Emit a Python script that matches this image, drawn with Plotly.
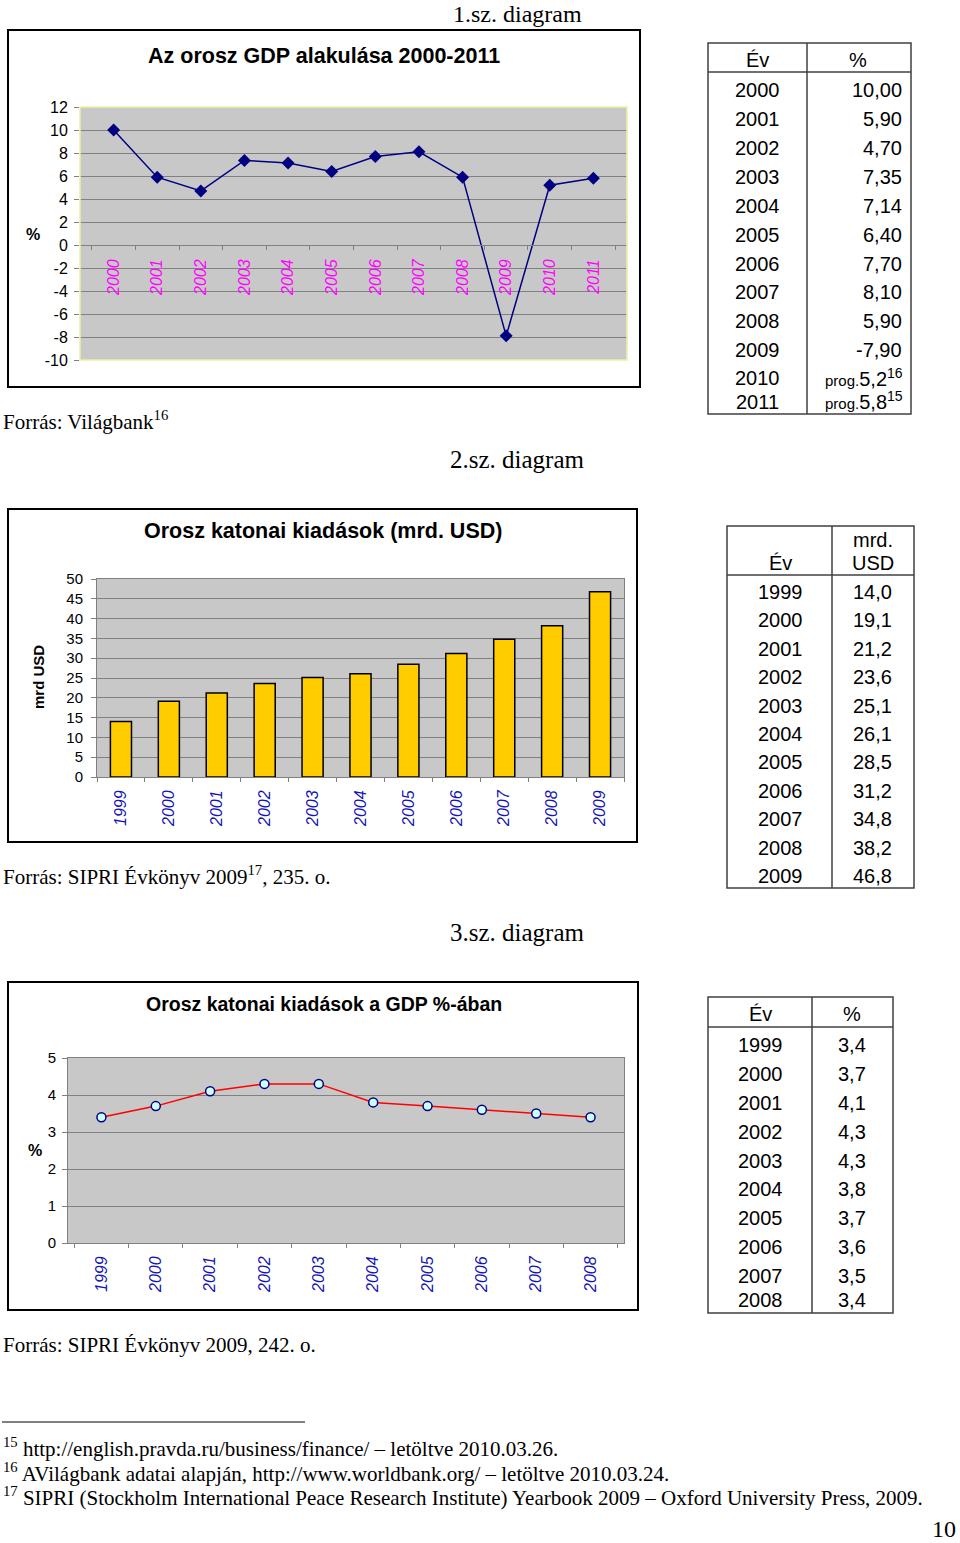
import plotly.graph_objects as go

W, H = 960, 1543


def X(px):
    return px / W


def Y(py):
    return 1 - py / H


# ---------------- data ----------------
gdp_years = ["2000", "2001", "2002", "2003", "2004", "2005",
             "2006", "2007", "2008", "2009", "2010", "2011"]
gdp_growth = [10.00, 5.90, 4.70, 7.35, 7.14, 6.40, 7.70, 8.10, 5.90, -7.90, 5.2, 5.8]
gdp_prefix = ["", "", "", "", "", "", "", "", "", "", "prog.", "prog."]
gdp_decimals = [2, 2, 2, 2, 2, 2, 2, 2, 2, 2, 1, 1]
gdp_note = ["", "", "", "", "", "", "", "", "", "", "16", "15"]
gdp_ticks = [-10, -8, -6, -4, -2, 0, 2, 4, 6, 8, 10, 12]

mil_years = ["1999", "2000", "2001", "2002", "2003", "2004",
             "2005", "2006", "2007", "2008", "2009"]
mil_spend = [14.0, 19.1, 21.2, 23.6, 25.1, 26.1, 28.5, 31.2, 34.8, 38.2, 46.8]
mil_ticks = [0, 5, 10, 15, 20, 25, 30, 35, 40, 45, 50]

share_years = ["1999", "2000", "2001", "2002", "2003",
               "2004", "2005", "2006", "2007", "2008"]
share_gdp = [3.4, 3.7, 4.1, 4.3, 4.3, 3.8, 3.7, 3.6, 3.5, 3.4]
share_ticks = [0, 1, 2, 3, 4, 5]

SANS = "Liberation Sans, Arial, sans-serif"
SERIF = "Liberation Serif, Times New Roman, serif"


def fmt(v, d):
    return f"{v:.{d}f}".replace(".", ",")


# ---------------- figure ----------------
fig = go.Figure()

fig.add_trace(go.Scatter(
    x=gdp_years, y=gdp_growth, mode="lines+markers",
    line=dict(color="#000080", width=1.5),
    marker=dict(symbol="diamond", size=10, color="#000080"),
    xaxis="x", yaxis="y", showlegend=False, hoverinfo="skip"))

fig.add_trace(go.Bar(
    x=mil_years, y=mil_spend,
    marker=dict(color="#FFCC00", line=dict(color="#000000", width=1.5)),
    xaxis="x2", yaxis="y2", showlegend=False, hoverinfo="skip"))

fig.add_trace(go.Scatter(
    x=share_years, y=share_gdp, mode="lines+markers",
    line=dict(color="#FF0000", width=1.5),
    marker=dict(symbol="circle", size=9, color="#CCFFFF",
                line=dict(color="#000080", width=1.5)),
    xaxis="x3", yaxis="y3", showlegend=False, hoverinfo="skip"))

# plot area domains (pixels)
d1 = dict(x=[X(80), X(627)], y=[Y(360), Y(107)])
d2 = dict(x=[X(97), X(624)], y=[Y(777), Y(579)])
d3 = dict(x=[X(68), X(624)], y=[Y(1243), Y(1058)])

g1lo, g1hi = gdp_ticks[0], gdp_ticks[-1]
zero_pos = d1["y"][0] + (0 - g1lo) / (g1hi - g1lo) * (d1["y"][1] - d1["y"][0])

grid = "#808080"
xfont_m = dict(family=SANS, size=16, color="#FF00FF", style="italic")
xfont_b = dict(family=SANS, size=16, color="#1414B4", style="italic")

fig.update_layout(
    width=W, height=H,
    margin=dict(l=0, r=0, t=0, b=0, pad=0, autoexpand=False),
    paper_bgcolor="white", plot_bgcolor="#C8C8C8",
    hovermode=False, bargap=0.56, showlegend=False,
    xaxis=dict(domain=d1["x"], anchor="free", position=zero_pos, type="category",
               showgrid=False, showline=True, linecolor="#808080", linewidth=1,
               ticks="outside", tickson="boundaries", ticklen=4, tickcolor="#808080",
               tickangle=-90, ticklabelstandoff=7, tickfont=xfont_m,
               automargin=False, fixedrange=True),
    yaxis=dict(domain=d1["y"], anchor="x", range=[g1lo, g1hi],
               tickvals=gdp_ticks, ticktext=[str(t) for t in gdp_ticks],
               showgrid=True, gridcolor=grid, gridwidth=1, zeroline=False,
               showline=False, ticks="outside", ticklen=5, tickcolor="#808080",
               ticklabelstandoff=3, tickfont=dict(family=SANS, size=16, color="#000"),
               automargin=False, fixedrange=True),
    xaxis2=dict(domain=d2["x"], anchor="y2", type="category",
                showgrid=False, showline=True, linecolor="#808080", mirror=True,
                ticks="outside", tickson="boundaries", ticklen=4, tickcolor="#808080",
                tickangle=-90, ticklabelstandoff=6, tickfont=xfont_b,
                automargin=False, fixedrange=True),
    yaxis2=dict(domain=d2["y"], anchor="x2", range=[mil_ticks[0], mil_ticks[-1]],
                tickvals=mil_ticks, ticktext=[str(t) for t in mil_ticks],
                showgrid=True, gridcolor=grid, gridwidth=1, zeroline=False,
                showline=True, linecolor="#808080", mirror=True,
                ticks="outside", ticklen=5, tickcolor="#808080",
                ticklabelstandoff=5, tickfont=dict(family=SANS, size=15, color="#000"),
                automargin=False, fixedrange=True),
    xaxis3=dict(domain=d3["x"], anchor="y3", type="category",
                showgrid=False, showline=True, linecolor="#808080", mirror=True,
                ticks="outside", tickson="boundaries", ticklen=4, tickcolor="#808080",
                tickangle=-90, ticklabelstandoff=6, tickfont=xfont_b,
                automargin=False, fixedrange=True),
    yaxis3=dict(domain=d3["y"], anchor="x3", range=[share_ticks[0], share_ticks[-1]],
                tickvals=share_ticks, ticktext=[str(t) for t in share_ticks],
                showgrid=True, gridcolor=grid, gridwidth=1, zeroline=False,
                showline=True, linecolor="#808080", mirror=True,
                ticks="outside", ticklen=5, tickcolor="#808080",
                ticklabelstandoff=3, tickfont=dict(family=SANS, size=15, color="#000"),
                automargin=False, fixedrange=True),
)

shapes = []
ann = []


def rect(x0, y0, x1, y1, color="#000000", width=1.5, layer="above"):
    shapes.append(dict(type="rect", xref="paper", yref="paper",
                       x0=X(x0), x1=X(x1), y0=Y(y1), y1=Y(y0),
                       line=dict(color=color, width=width), layer=layer))


def line(x0, y0, x1, y1, color="#000000", width=1.5):
    shapes.append(dict(type="line", xref="paper", yref="paper",
                       x0=X(x0), x1=X(x1), y0=Y(y0), y1=Y(y1),
                       line=dict(color=color, width=width)))


def text(x, y, s, size=14, family=SANS, color="#000000", xanchor="center",
         yanchor="middle", angle=0):
    ann.append(dict(x=X(x), y=Y(y), xref="paper", yref="paper", text=s,
                    showarrow=False, xanchor=xanchor, yanchor=yanchor,
                    textangle=angle, font=dict(family=family, size=size, color=color),
                    borderpad=0))


# chart frames
rect(8, 30, 640, 387, width=2)
rect(8, 509, 637, 842, width=2)
rect(8, 982, 638, 1310, width=2)
# chart 1 plot border (pale yellow)
rect(80, 107, 627, 360, color="#EEEEA8", width=1.5)

# diagram captions
text(517, 0, "1.sz. diagram", size=24, family=SERIF, yanchor="top")
text(517, 460, "2.sz. diagram", size=25, family=SERIF)
text(517, 932, "3.sz. diagram", size=25, family=SERIF)

# chart titles
text(324, 56, "<b>Az orosz GDP alakulása 2000-2011</b>", size=21.5)
text(323, 531, "<b>Orosz katonai kiadások (mrd. USD)</b>", size=21.5)
text(324, 1004, "<b>Orosz katonai kiadások a GDP %-ában</b>", size=19.5)

# axis titles
text(33, 234, "<b>%</b>", size=16)
text(38, 677, "<b>mrd USD</b>", size=15, angle=-90)
text(35, 1150, "<b>%</b>", size=16)

# sources
text(2, 420, "Forrás: Világbank<sup>16</sup>", size=21, family=SERIF, xanchor="left")
text(2, 876, "Forrás: SIPRI Évkönyv 2009<sup>17</sup>, 235. o.", size=21,
     family=SERIF, xanchor="left")
text(2, 1345, "Forrás: SIPRI Évkönyv 2009, 242. o.", size=21, family=SERIF,
     xanchor="left")

# ---------------- table 1 ----------------
TC = "#404040"
rect(708, 43, 911, 414, color=TC)
line(708, 72, 911, 72, color=TC)
line(807, 43, 807, 414, color=TC)
text(757, 60, "Év", size=20)
text(858, 60, "%", size=20)
t1_rows = [90, 119, 148, 177, 206, 235, 264, 292, 321, 350, 378, 402]
for yr, v, pre, dec, note, ry in zip(gdp_years, gdp_growth, gdp_prefix,
                                     gdp_decimals, gdp_note, t1_rows):
    text(757, ry, yr, size=20)
    s = fmt(v, dec)
    if pre:
        s = f"<span style='font-size:15px'>{pre}</span>{s}"
    if note:
        s += f"<sup>{note}</sup>"
        text(904, ry - 1, s, size=20, xanchor="right")
    else:
        text(903, ry, s, size=20, xanchor="right")

# ---------------- table 2 ----------------
rect(727, 526, 914, 888, color=TC)
line(727, 575, 914, 575, color=TC)
line(832, 526, 832, 888, color=TC)
text(780, 563, "Év", size=20)
text(873, 540, "mrd.", size=20)
text(873, 563, "USD", size=20)
t2_rows = [592, 620, 649, 677, 706, 734, 762, 791, 819, 848, 876]
for yr, v, ry in zip(mil_years, mil_spend, t2_rows):
    text(780, ry, yr, size=20)
    text(893, ry, fmt(v, 1), size=20, xanchor="right")

# ---------------- table 3 ----------------
rect(708, 997, 893, 1313, color=TC)
line(708, 1027, 893, 1027, color=TC)
line(812, 997, 812, 1313, color=TC)
text(760, 1014, "Év", size=20)
text(852, 1014, "%", size=20)
t3_rows = [1045, 1074, 1103, 1132, 1161, 1189, 1218, 1247, 1276, 1300]
for yr, v, ry in zip(share_years, share_gdp, t3_rows):
    text(760, ry, yr, size=20)
    text(852, ry, fmt(v, 1), size=20)

# ---------------- footnotes ----------------
line(2, 1422, 305, 1422, width=1)
text(2, 1447, "<sup>15</sup> http://english.pravda.ru/business/finance/ – letöltve 2010.03.26.",
     size=21, family=SERIF, xanchor="left")
text(2, 1472, "<sup>16</sup> AVilágbank adatai alapján, http://www.worldbank.org/ – letöltve 2010.03.24.",
     size=21, family=SERIF, xanchor="left")
text(2, 1496, "<sup>17</sup> SIPRI (Stockholm International Peace Research Institute) Yearbook 2009 – Oxford University Press, 2009.",
     size=21, family=SERIF, xanchor="left")
text(957, 1543, "10", size=24, family=SERIF, xanchor="right", yanchor="bottom")

fig.update_layout(shapes=shapes, annotations=ann)

fig.write_html("out.html", include_plotlyjs=True,
               config={"displayModeBar": False, "staticPlot": True},
               post_script="document.body.style.margin='0';")
